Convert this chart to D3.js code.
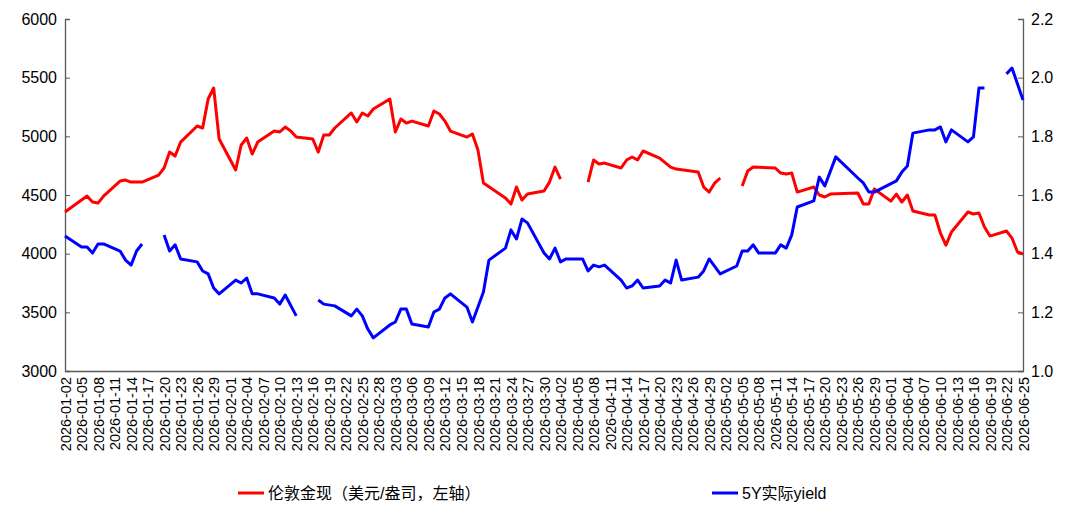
<!DOCTYPE html>
<html>
<head>
<meta charset="utf-8">
<script src="https://cdn.jsdelivr.net/npm/d3@7"></script>
<style>
  body { margin: 0; background: #fff; }
  text { font-family: "Liberation Sans", "Noto Sans CJK SC", sans-serif; }
</style>
</head>
<body>
<div id="chart"></div>
<script>
// day offsets from 2026-01-02; null marks a break in the line
const goldDays = [0,4,5,6,7,10,11,12,14,17,18,19,20,21,24,25,26,27,28,31,32,33,34,35,38,39,40,41,42,45,46,47,48,49,52,53,54,55,56,59,60,61,62,63,66,67,68,69,70,73,74,75,76,80,81,82,83,84,87,88,89,90,null,95,96,97,98,101,102,103,104,105,108,110,111,115,116,117,118,119,null,123,124,125,129,130,131,132,133,136,137,138,139,144,145,146,147,150,151,152,153,154,157,158,159,160,161,164,165,166,167,168,171,172,173,174];
const goldValues = [4355,4491,4440,4431,4491,4619,4627,4610,4610,4670,4730,4866,4832,4951,5088,5071,5318,5412,4977,4713,4926,4986,4849,4951,5045,5037,5079,5045,4994,4977,4866,5011,5011,5071,5199,5122,5199,5173,5233,5318,5037,5148,5113,5130,5088,5216,5190,5130,5045,4994,5020,4883,4602,4474,4423,4568,4457,4508,4534,4610,4738,4636,null,4610,4798,4764,4772,4730,4798,4824,4798,4875,4815,4738,4721,4696,4568,4525,4602,4645,null,4576,4704,4738,4730,4687,4679,4687,4525,4568,4500,4483,4508,4517,4423,4423,4551,4448,4508,4440,4500,4363,4329,4329,4176,4073,4184,4355,4338,4346,4227,4150,4193,4133,4014,3997];

const yieldDays = [0,3,4,5,6,7,10,11,12,13,14,null,18,19,20,21,24,25,26,27,28,31,32,33,34,35,38,39,40,42,null,46,47,49,52,53,54,55,56,59,60,61,62,63,66,67,68,69,70,73,74,75,76,77,80,81,82,83,84,87,88,89,90,91,94,95,96,97,98,101,102,103,104,105,108,109,110,111,112,115,116,117,119,122,123,124,125,126,129,130,131,132,133,136,137,138,140,144,145,146,147,151,152,153,154,157,158,159,160,161,164,165,166,167,null,171,172,174];
const yieldValues = [1.460,1.423,1.423,1.402,1.433,1.433,1.409,1.378,1.361,1.409,1.433,null,1.464,1.409,1.430,1.382,1.372,1.341,1.331,1.283,1.263,1.310,1.300,1.317,1.263,1.263,1.249,1.228,1.259,1.188,null,1.242,1.228,1.222,1.188,1.211,1.188,1.143,1.113,1.157,1.167,1.211,1.211,1.160,1.150,1.201,1.211,1.249,1.263,1.218,1.167,1.218,1.269,1.378,1.419,1.481,1.450,1.518,1.505,1.402,1.382,1.419,1.372,1.382,1.382,1.341,1.361,1.355,1.361,1.310,1.283,1.290,1.310,1.283,1.290,1.310,1.300,1.378,1.310,1.320,1.341,1.382,1.331,1.358,1.409,1.409,1.430,1.402,1.402,1.430,1.419,1.464,1.559,1.580,1.661,1.631,1.730,1.658,1.641,1.610,1.610,1.648,1.678,1.699,1.811,1.822,1.822,1.832,1.781,1.822,1.781,1.798,1.965,1.965,null,2.013,2.033,1.924];

const leftTicks = [3000,3500,4000,4500,5000,5500,6000];
const rightTicks = [1.0,1.2,1.4,1.6,1.8,2.0,2.2];
const seriesNames = ['伦敦金现（美元/盎司，左轴）', '5Y实际yield'];

const startDate = new Date(2026, 0, 2);
const endDate = new Date(2026, 5, 25);
const dayToDate = d => d3.timeDay.offset(startDate, d);
const fmt = d3.timeFormat('%Y-%m-%d');

const width = 1080, height = 518;
const margin = { top: 19, right: 57, bottom: 147, left: 65 };
const innerW = width - margin.left - margin.right;
const innerH = height - margin.top - margin.bottom;

const svg = d3.select('#chart').append('svg')
  .attr('width', width).attr('height', height);
const g = svg.append('g').attr('transform', `translate(${margin.left},${margin.top})`);

const x = d3.scaleTime().domain([startDate, endDate]).range([0, innerW]);
const yL = d3.scaleLinear().domain([3000, 6000]).range([innerH, 0]);
const yR = d3.scaleLinear().domain([1.0, 2.2]).range([innerH, 0]);

// axes
const axL = g.append('g').call(d3.axisLeft(yL).tickValues(leftTicks).tickSize(-5).tickPadding(8).tickFormat(d3.format('d')));
const axR = g.append('g').attr('transform', `translate(${innerW},0)`)
  .call(d3.axisRight(yR).tickValues(rightTicks).tickSize(-5).tickPadding(8).tickFormat(d3.format('.1f')));
const xTicks = d3.range(0, 175, 3).map(dayToDate);
const axB = g.append('g').attr('transform', `translate(0,${innerH})`)
  .call(d3.axisBottom(x).tickValues(xTicks).tickSize(0).tickFormat(fmt));
axB.selectAll('text')
  .attr('transform', 'rotate(-90)')
  .attr('text-anchor', 'end')
  .attr('x', -6).attr('y', 0).attr('dy', '0.35em');
[axL, axR, axB].forEach(a => {
  a.select('.domain').attr('stroke', '#595959').attr('stroke-width', 1.3);
  a.selectAll('line').attr('stroke', '#595959');
  a.selectAll('text').attr('fill', '#000');
});
axB.selectAll('text').style('font-size', '14.5px');
axL.selectAll('.tick text').style('font-size', '16px');
axR.selectAll('.tick text').style('font-size', '16px');

// lines
const gold = goldDays.map((d, i) => d === null ? null : { date: dayToDate(d), v: goldValues[i] });
const yld = yieldDays.map((d, i) => d === null ? null : { date: dayToDate(d), v: yieldValues[i] });

g.append('path').datum(gold)
  .attr('fill', 'none').attr('stroke', '#ff0000').attr('stroke-width', 3)
  .attr('stroke-linejoin', 'round')
  .attr('d', d3.line().defined(d => d !== null).x(d => x(d.date)).y(d => yL(d.v)));
g.append('path').datum(yld)
  .attr('fill', 'none').attr('stroke', '#0000ff').attr('stroke-width', 3)
  .attr('stroke-linejoin', 'round')
  .attr('d', d3.line().defined(d => d !== null).x(d => x(d.date)).y(d => yR(d.v)));

// legend
const legend = svg.append('g');
const items = [{ name: seriesNames[0], color: '#ff0000', x: 238 }, { name: seriesNames[1], color: '#0000ff', x: 712 }];
items.forEach(it => {
  legend.append('line').attr('x1', it.x).attr('x2', it.x + 26).attr('y1', 493).attr('y2', 493)
    .attr('stroke', it.color).attr('stroke-width', 3);
  legend.append('text').attr('x', it.x + 30).attr('y', 493).attr('dy', '0.35em')
    .style('font-size', '16px').text(it.name);
});
</script>
</body>
</html>
